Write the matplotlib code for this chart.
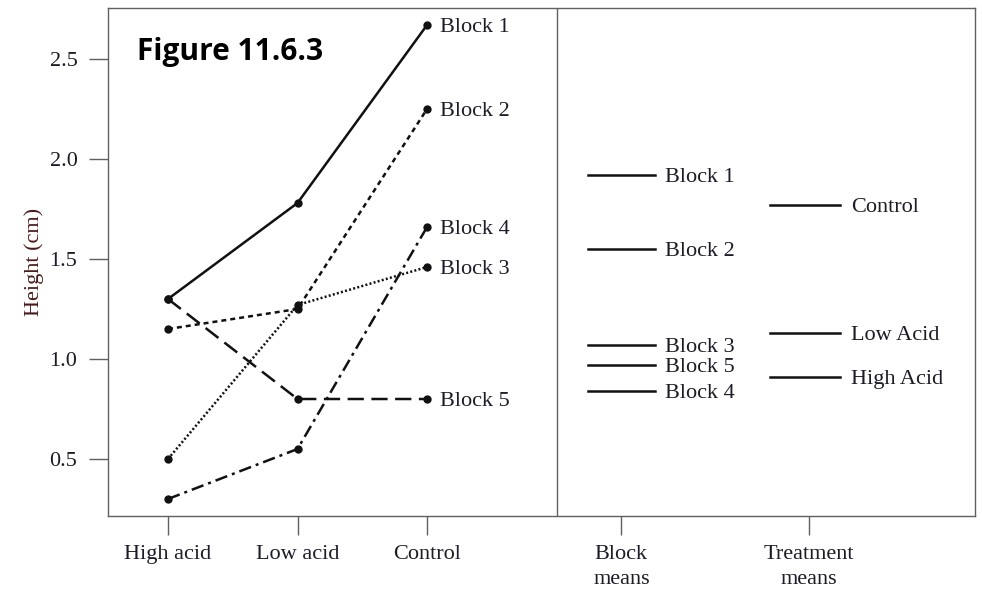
import matplotlib
matplotlib.use("Agg")
import matplotlib.pyplot as plt

# Plant heights (cm) for each block under the three treatments
treatments = ["High acid", "Low acid", "Control"]
blocks = ["Block 1", "Block 2", "Block 3", "Block 4", "Block 5"]
block1 = [1.30, 1.78, 2.67]
block2 = [1.15, 1.25, 2.25]
block3 = [0.50, 1.27, 1.46]
block4 = [0.30, 0.55, 1.66]
block5 = [1.30, 0.80, 0.80]

# Means shown in the right panel
block_means = [1.92, 1.55, 1.07, 0.84, 0.97]
treat_names = ["High Acid", "Low Acid", "Control"]
treat_means = [0.91, 1.13, 1.77]

plt.rcParams["font.family"] = ["Liberation Serif", "DejaVu Serif"]
TXT = "#1c1c28"
GRAY = "#606060"
FS = 16

fig = plt.figure(figsize=(9.82, 5.97), dpi=100)
ax = fig.add_axes([108 / 982, 1 - 516 / 597, (975 - 108) / 982, (516 - 8) / 597])

x = [1, 2, 3]
styles = [
    "-",
    (0, (2.0, 1.6)),
    (0, (0.8, 0.9)),
    (0, (5.0, 2.0, 1.2, 2.0)),
    (0, (6.5, 3.0)),
]
series = [block1, block2, block3, block4, block5]
for name, vals, ls in zip(blocks, series, styles):
    ax.plot(x, vals, color="#111111", lw=1.8, linestyle=ls,
            marker="o", markersize=6, markeredgewidth=0)
    ax.text(3.1, vals[-1], name, ha="left", va="center_baseline", fontsize=FS, color=TXT)

# divider between the two panels
ax.axvline(4.0, color=GRAY, lw=1.0)

# block means
bx = 4.5
for name, m in zip(blocks, block_means):
    ax.plot([bx - 0.26, bx + 0.26], [m, m], color="#111111", lw=1.8)
    ax.text(bx + 0.34, m, name, ha="left", va="center_baseline", fontsize=FS, color=TXT)

# treatment means
tx = 5.92
for name, m in zip(treat_names, treat_means):
    ax.plot([tx - 0.27, tx + 0.27], [m, m], color="#111111", lw=1.8)
    ax.text(tx + 0.35, m, name, ha="left", va="center_baseline", fontsize=FS, color=TXT)

ax.set_xlim(0.537, 7.23)
ax.set_ylim(0.215, 2.755)
ax.set_xticks([1, 2, 3, 4.5, 5.95])
ax.set_xticklabels(treatments + ["Block\nmeans", "Treatment\nmeans"],
                   fontsize=FS, color=TXT, linespacing=1.4)
ax.set_yticks([0.5, 1.0, 1.5, 2.0, 2.5])
ax.set_yticklabels(["0.5", "1.0", "1.5", "2.0", "2.5"], fontsize=FS, color=TXT)
ax.tick_params(axis="both", direction="out", length=14, width=1.0, color=GRAY, pad=8)
ax.tick_params(axis="x", pad=7)
for s in ax.spines.values():
    s.set_color(GRAY)
    s.set_linewidth(1.0)

ax.set_ylabel("Height (cm)", fontsize=FS, color="#4a1a1a", labelpad=4)

ax.text(0.033, 0.914, "Figure 11.6.3", transform=ax.transAxes, fontsize=21.5,
        fontweight="bold", family=["Open Sans", "DejaVu Sans"], color="black",
        ha="left", va="center")

fig.savefig("out.png", dpi=100)
